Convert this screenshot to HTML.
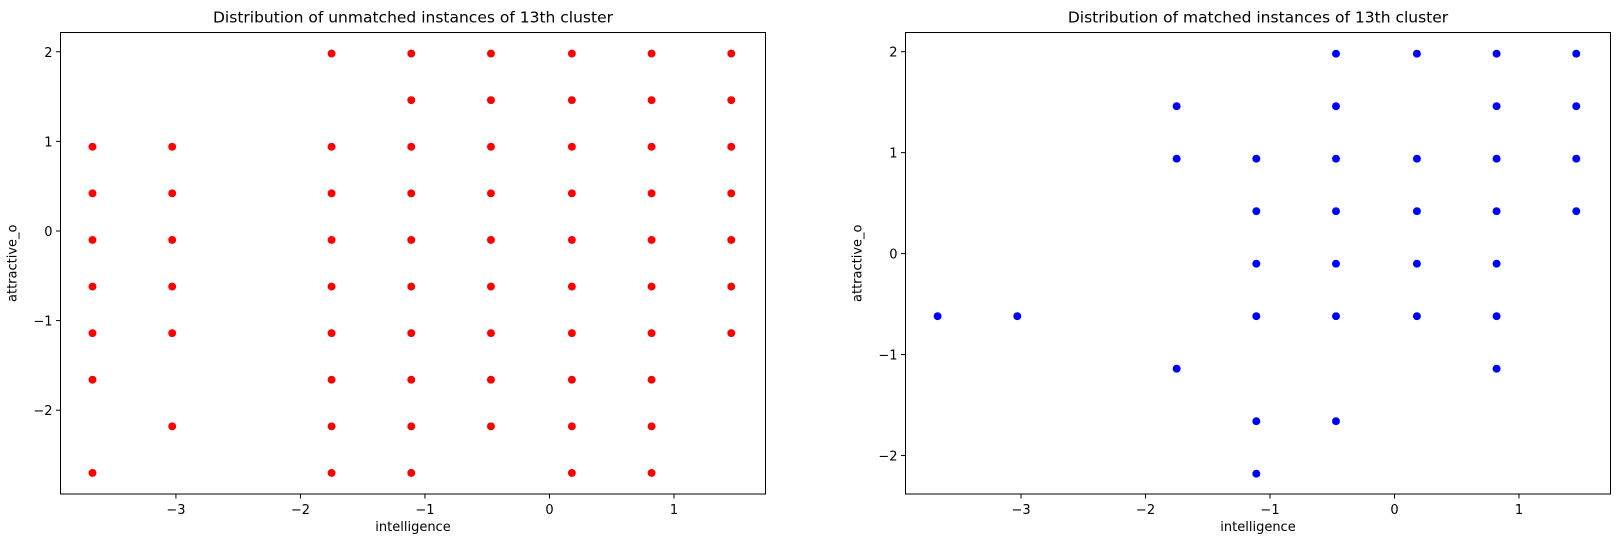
<!DOCTYPE html>
<html><head><meta charset="utf-8"><style>
body{margin:0;background:#fff;}
svg{display:block;font-family:"DejaVu Sans","Liberation Sans",sans-serif;}
</style></head><body>
<svg id="chart" width="1619" height="547" xmlns="http://www.w3.org/2000/svg"></svg>
<script>
const xCols = [-3.67, -3.03, -1.75, -1.11, -0.47, 0.18, 0.82, 1.46];
const yRows = [1.98, 1.46, 0.94, 0.42, -0.10, -0.62, -1.14, -1.66, -2.18, -2.70];
// unmatched: row indices per column
const unmatchedIdx = [[2,3,4,5,6,7,9],[2,3,4,5,6,8],[0,2,3,4,5,6,7,8,9],[0,1,2,3,4,5,6,7,8,9],[0,1,2,3,4,5,6,7,8],[0,1,2,3,4,5,6,7,8,9],[0,1,2,3,4,5,6,7,8,9],[0,1,2,3,4,5,6]];
const matchedIdx = [[5],[5],[1,2,6],[2,3,4,5,7,8],[0,1,2,3,4,5,7],[0,2,3,4,5],[0,1,2,3,4,5,6],[0,1,2,3]];
const xTicks = [-3,-2,-1,0,1];
const yTicksLeft = [-2,-1,0,1,2];
const yTicksRight = [-2,-1,0,1,2];

const NS="http://www.w3.org/2000/svg";
const svg=document.getElementById('chart');
function mk(t,a,p){const e=document.createElementNS(NS,t);for(const k in a)e.setAttribute(k,a[k]);(p||svg).appendChild(e);return e;}

function panel(name,x0,x1,y0,y1,xmin,xmax,ymin,ymax,idx,color,yTicks,title){
  const g=mk('g',{});
  
  
  const sx=v=>x0+(v-xmin)/(xmax-xmin)*(x1-x0);
  const sy=v=>y1-(v-ymin)/(ymax-ymin)*(y1-y0);
  idx.forEach((rows,c)=>rows.forEach(r=>{
    const p=mk('circle',{cx:sx(xCols[c]),cy:sy(yRows[r]),r:4.2,fill:color,stroke:'#fff','stroke-width':0.5},g);
    
    
  }));
  const fr=mk('rect',{x:x0,y:y0,width:x1-x0,height:y1-y0,fill:'none',stroke:'#000','stroke-width':1},g);
  
  
  xTicks.forEach(t=>{const X=sx(t);
    mk('line',{x1:X,x2:X,y1:y1,y2:y1+4.5,stroke:'#000'},g);
    const tx=mk('text',{x:X,y:y1+20,'text-anchor':'middle','font-size':13},g);
    tx.textContent=(t<0?'\u2212'+(-t):t);
    
    
  });
  yTicks.forEach(t=>{const Y=sy(t);
    mk('line',{x1:x0-4.5,x2:x0,y1:Y,y2:Y,stroke:'#000'},g);
    const tx=mk('text',{x:x0-8,y:Y+5,'text-anchor':'end','font-size':13},g);
    tx.textContent=(t<0?'\u2212'+(-t):t);
    
    
  });
  const tt=mk('text',{x:(x0+x1)/2,y:y0-10,'text-anchor':'middle','font-size':15.5},g);
  tt.textContent=title;
  
  
  const xl=mk('text',{x:(x0+x1)/2,y:y1+37,'text-anchor':'middle','font-size':13},g);
  xl.textContent='intelligence';
  
  
  const yc=(y0+y1)/2;
  const yl=mk('text',{x:x0-44,y:yc,'text-anchor':'middle','font-size':13,transform:`rotate(-90 ${x0-44} ${yc})`},g);
  yl.textContent='attractive_o';
  
  
}
panel('unmatched-panel',60.5,765.5,32.5,494,-3.927,1.735,-2.935,2.215,unmatchedIdx,'#ff0000',yTicksLeft,'Distribution of unmatched instances of 13th cluster');
panel('matched-panel',905.5,1610.5,32.5,494,-3.928,1.735,-2.381,2.19,matchedIdx,'#0000ff',yTicksRight,'Distribution of matched instances of 13th cluster');
</script>
</body></html>
